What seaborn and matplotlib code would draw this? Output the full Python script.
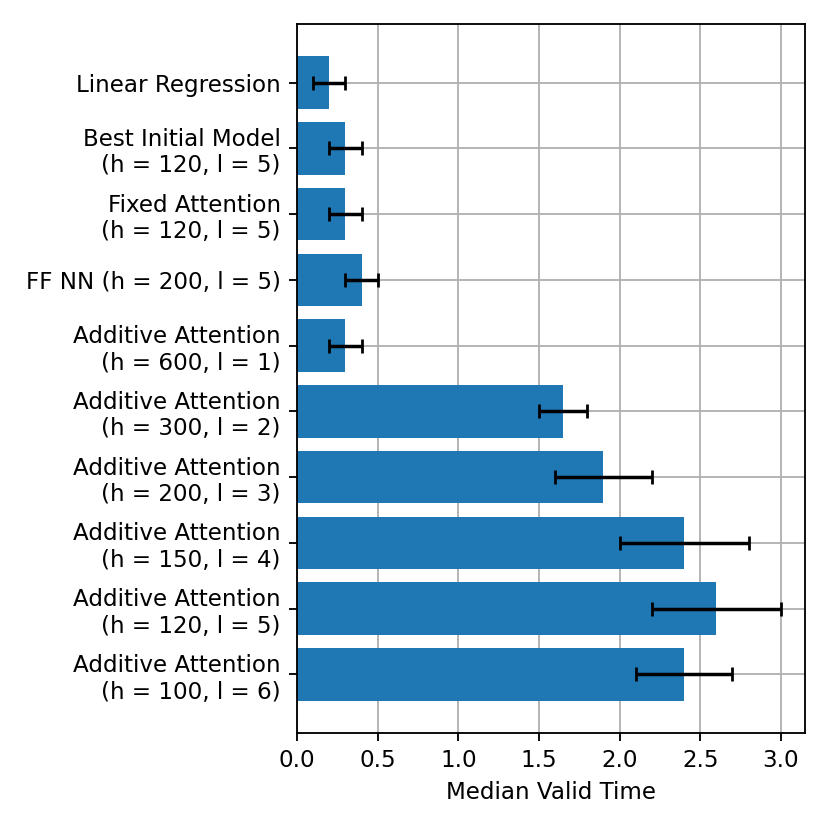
import numpy as np
import pandas as pd
import seaborn as sns
import matplotlib.pyplot as plt

models = [
    "Linear Regression",
    "Best Initial Model\n(h = 120, l = 5)",
    "Fixed Attention\n(h = 120, l = 5)",
    "FF NN (h = 200, l = 5)",
    "Additive Attention\n(h = 600, l = 1)",
    "Additive Attention\n(h = 300, l = 2)",
    "Additive Attention\n(h = 200, l = 3)",
    "Additive Attention\n(h = 150, l = 4)",
    "Additive Attention\n(h = 120, l = 5)",
    "Additive Attention\n(h = 100, l = 6)",
]
median_time = [0.2, 0.3, 0.3, 0.4, 0.3, 1.65, 1.9, 2.4, 2.6, 2.4]
err_low = [0.1, 0.2, 0.2, 0.3, 0.2, 1.5, 1.6, 2.0, 2.2, 2.1]
err_high = [0.3, 0.4, 0.4, 0.5, 0.4, 1.8, 2.2, 2.8, 3.0, 2.7]

df = pd.DataFrame({"Model": models, "Median": median_time})

fig, ax = plt.subplots(figsize=(5, 5), dpi=166)
sns.barplot(data=df, x="Median", y="Model", orient="h", color="#1f77b4",
            saturation=1, linewidth=0, width=0.8, ax=ax)

med = np.array(median_time)
xerr = [med - np.array(err_low), np.array(err_high) - med]
ax.errorbar(med, np.arange(len(models)), xerr=xerr, fmt="none",
            ecolor="black", elinewidth=1.5, capsize=3, capthick=1.2)

ax.grid(True, color="#b0b0b0", linewidth=0.8)
ax.set_axisbelow(True)
ax.set_xlim(0, 3.15)
ax.set_ylim(len(models) - 1 + 0.89, -0.89)
ax.set_xlabel("Median Valid Time")
ax.set_ylabel("")

fig.subplots_adjust(left=297 / 830, right=805 / 830, top=1 - 24 / 830, bottom=1 - 733 / 830)
fig.savefig("out.png", dpi=166)
